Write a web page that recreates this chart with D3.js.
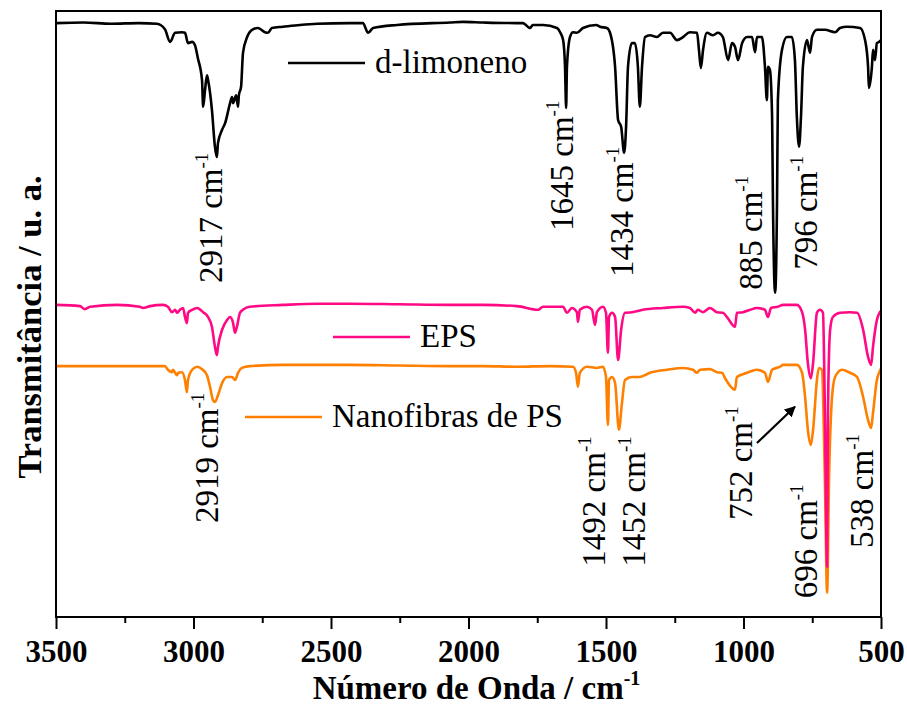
<!DOCTYPE html>
<html><head><meta charset="utf-8">
<script src="https://cdn.jsdelivr.net/npm/d3@7"></script>
<style>body{margin:0;background:#fff}</style>
</head><body>
<svg id="chart" width="907" height="708"></svg>
<script>
// ---- data ----
const xTicks = [3500, 3000, 2500, 2000, 1500, 1000, 500];
const xMinorTicks = [3250, 2750, 2250, 1750, 1250, 750];
const seriesNames = ["d-limoneno", "EPS", "Nanofibras de PS"];
const seriesColors = ["#000000", "#FF0A84", "#FF8000"];

const limoneno = [[3500,98.0],[3400,98.1],[3300,97.9],[3200,98.0],[3133,97.9],[3104,97.0],[3085,94.9],[3067,96.4],[3042,96.5],[3031,96.4],[3020,94.7],[3005,94.9],[2995,94.4],[2984,92.2],[2969,88.6],[2965,84.2],[2958,87.0],[2951,89.4],[2947,88.6],[2933,83.7],[2922,77.6],[2915,75.9],[2911,78.2],[2896,80.4],[2885,81.5],[2867,84.8],[2860,85.8],[2856,84.8],[2845,86.1],[2838,84.2],[2835,86.1],[2827,87.5],[2820,93.1],[2805,95.7],[2787,96.9],[2765,97.2],[2740,96.5],[2729,96.4],[2715,97.2],[2675,97.4],[2613,97.7],[2551,97.9],[2431,98.0],[2384,98.0],[2365,96.4],[2347,97.2],[2260,97.7],[2067,98.1],[2020,98.2],[1947,98.1],[1824,98.0],[1802,98.0],[1776,97.2],[1766,97.7],[1729,97.7],[1678,97.2],[1667,96.5],[1656,95.2],[1649,90.8],[1645,84.0],[1642,90.8],[1631,95.7],[1620,96.5],[1606,96.4],[1584,97.2],[1536,97.7],[1522,97.4],[1497,97.2],[1486,96.5],[1467,90.8],[1456,82.0],[1445,80.9],[1434,76.6],[1427,80.9],[1420,90.8],[1406,94.7],[1395,94.7],[1384,90.8],[1377,84.2],[1369,90.8],[1358,95.7],[1340,96.0],[1315,95.7],[1293,96.4],[1267,96.4],[1242,95.2],[1220,95.7],[1195,96.5],[1169,96.4],[1162,93.6],[1155,90.6],[1147,93.6],[1133,96.4],[1111,96.0],[1093,96.4],[1075,95.7],[1056,91.9],[1042,94.7],[1031,94.1],[1020,91.9],[1005,94.7],[987,95.7],[969,95.7],[958,93.2],[951,95.7],[933,95.7],[922,90.8],[915,85.3],[911,90.8],[904,90.3],[896,82.5],[893,68.8],[885,53.5],[878,68.8],[875,85.3],[860,93.6],[842,95.7],[824,95.7],[813,91.9],[806,82.5],[798,77.6],[791,82.5],[784,90.8],[769,95.2],[766,94.7],[758,93.1],[751,95.7],[733,96.9],[704,96.9],[667,96.5],[649,97.2],[624,97.4],[576,97.2],[558,95.2],[547,90.8],[544,87.3],[533,90.8],[529,93.6],[522,91.9],[515,94.7],[507,94.9],[500,95.2]];

const eps = [[3500,51.5],[3413,51.3],[3395,50.8],[3376,51.2],[3278,51.5],[3195,51.2],[3184,51.0],[3158,51.3],[3111,51.5],[3093,51.2],[3078,50.3],[3067,50.7],[3060,50.2],[3049,50.7],[3038,51.0],[3031,49.5],[3024,48.5],[3020,50.2],[3005,50.7],[2987,51.0],[2965,50.3],[2947,49.5],[2933,47.9],[2922,44.6],[2915,43.2],[2911,44.6],[2896,47.4],[2878,49.0],[2867,49.5],[2856,48.5],[2849,46.9],[2842,47.9],[2831,50.2],[2820,50.7],[2795,51.2],[2675,51.5],[2551,51.7],[2431,51.7],[2250,51.6],[2067,51.5],[1947,51.5],[1824,51.3],[1747,50.7],[1729,51.2],[1656,51.2],[1642,50.2],[1624,51.0],[1606,50.3],[1602,48.7],[1595,50.7],[1569,51.2],[1551,50.7],[1540,48.2],[1533,50.3],[1511,51.2],[1500,50.2],[1493,43.6],[1489,49.5],[1478,50.2],[1467,49.5],[1456,42.4],[1445,47.4],[1431,50.2],[1406,50.3],[1366,50.7],[1293,51.0],[1220,51.2],[1195,51.0],[1176,50.2],[1166,50.7],[1147,50.3],[1122,51.0],[1097,50.3],[1075,50.2],[1060,49.5],[1031,47.9],[1024,50.2],[1002,50.3],[976,50.7],[951,51.0],[922,50.7],[911,49.5],[900,51.0],[875,51.2],[856,51.5],[806,51.5],[787,50.3],[776,47.4],[766,41.9],[755,39.4],[747,41.9],[733,50.2],[722,50.7],[711,50.2],[704,33.7],[696,8.3],[693,33.7],[685,47.4],[675,49.5],[649,50.2],[613,50.3],[587,50.2],[565,47.4],[547,42.9],[536,41.6],[529,44.6],[515,49.0],[504,50.3],[500,50.5]];

const nanofibras = [[3500,41.4],[3402,41.4],[3278,41.4],[3158,41.4],[3104,41.4],[3093,40.8],[3078,40.4],[3075,40.8],[3060,39.9],[3056,40.3],[3042,40.4],[3031,39.1],[3024,37.1],[3020,39.1],[3005,40.8],[2987,41.3],[2969,40.9],[2951,39.9],[2940,38.0],[2929,35.8],[2922,35.5],[2911,36.6],[2896,38.6],[2878,39.6],[2860,39.6],[2849,39.1],[2838,40.3],[2824,41.1],[2795,41.4],[2675,41.6],[2431,41.6],[2250,41.5],[2067,41.4],[1947,41.4],[1824,41.3],[1704,41.4],[1620,41.3],[1609,40.3],[1602,38.0],[1595,40.3],[1569,41.3],[1533,41.1],[1511,41.3],[1500,39.6],[1493,31.7],[1489,39.1],[1478,39.6],[1467,38.6],[1453,30.9],[1442,35.3],[1431,39.1],[1406,39.6],[1377,39.6],[1340,40.3],[1278,40.8],[1220,41.1],[1184,40.8],[1169,40.3],[1158,40.8],[1122,40.9],[1097,40.4],[1078,40.3],[1067,39.4],[1031,37.5],[1024,39.6],[987,40.3],[951,40.8],[922,40.3],[911,38.8],[896,40.8],[867,41.3],[856,41.6],[806,41.6],[787,40.3],[776,36.3],[766,30.9],[755,28.4],[747,30.9],[733,39.1],[726,41.1],[715,40.8],[704,22.6],[696,4.0],[689,22.6],[678,36.3],[667,39.6],[642,40.8],[613,40.3],[587,39.6],[565,36.3],[547,32.5],[536,31.2],[529,33.7],[515,39.1],[504,40.6],[500,41.0]];

const peakLabels = ["2917","1645","1434","885","796","2919","1492","1452","752","696","538"];
const peakLabelWn = [2896,1620,1402,933,733,2911,1504,1358,969,733,529];
const peakLabelT  = [55.1,63.7,56.1,54.0,57.3,15.5,8.3,8.3,16.0,3.1,11.4];
const arrowFrom = [951, 28.7];
const arrowTo = [813, 34.7];

// ---- layout ----
const svg = d3.select("#chart");
const L = 56, R = 881, T = 11, B = 617;
const serif = "'Liberation Serif','Times New Roman',serif";
const x = d3.scaleLinear().domain([3500, 500]).range([L, R]);
const y = d3.scaleLinear().domain([0, 100]).range([B, T]);

const line = d3.line().x(d => x(d[0])).y(d => y(d[1])).curve(d3.curveMonotoneX);

const plot = svg.append("g");
const order = [[limoneno,0],[nanofibras,2],[eps,1]];
order.forEach(([data, i]) => {
  plot.append("path").datum(data).attr("d", line)
    .attr("fill","none").attr("stroke", seriesColors[i])
    .attr("stroke-width", 2.6).attr("stroke-linejoin","round");
});

// frame
svg.append("rect").attr("x", L).attr("y", T).attr("width", R-L).attr("height", B-T)
  .attr("fill","none").attr("stroke","#000").attr("stroke-width",2);

// axes
const xAxis = d3.axisBottom(x).tickValues(xTicks).tickSize(12).tickPadding(11).tickFormat(d3.format("d"));
const gx = svg.append("g").attr("transform", `translate(0,${B})`).call(xAxis);
gx.select(".domain").remove();
gx.selectAll(".tick line").attr("stroke-width",2);
gx.selectAll(".tick text").attr("font-family", serif).attr("font-weight","bold").attr("font-size",31).attr("fill","#000");
const xMinor = d3.axisBottom(x).tickValues(xMinorTicks).tickSize(6).tickFormat("");
const gm = svg.append("g").attr("transform", `translate(0,${B})`).call(xMinor);
gm.select(".domain").remove();
gm.selectAll(".tick line").attr("stroke-width",2);

// axis titles
const xt = svg.append("text").attr("x", (L+R)/2 + 8).attr("y", 699).attr("text-anchor","middle")
  .attr("font-family", serif).attr("font-weight","bold").attr("font-size",33);
xt.append("tspan").text("Número de Onda / cm");
xt.append("tspan").text("-1").attr("font-size",20).attr("dy",-14);

svg.append("text").attr("transform","translate(41,327) rotate(-90)").attr("text-anchor","middle")
  .attr("font-family", serif).attr("font-weight","bold").attr("font-size",34.5)
  .text("Transmitância / u. a.");

// peak labels
peakLabels.forEach((lab, i) => {
  const t = svg.append("text")
    .attr("transform", `translate(${x(peakLabelWn[i])},${y(peakLabelT[i])}) rotate(-90)`)
    .attr("font-family", serif).attr("font-size",33).attr("fill","#000");
  t.append("tspan").text(lab + " cm");
  t.append("tspan").text("-1").attr("font-size",19).attr("dy",-14);
});

// arrow
svg.append("defs").append("marker").attr("id","ah").attr("viewBox","0 0 10 10")
  .attr("refX",9).attr("refY",5).attr("markerWidth",5).attr("markerHeight",5).attr("orient","auto")
  .append("path").attr("d","M0,0 L10,5 L0,10 z").attr("fill","#000");
svg.append("line").attr("x1", x(arrowFrom[0])).attr("y1", y(arrowFrom[1]))
  .attr("x2", x(arrowTo[0])).attr("y2", y(arrowTo[1]))
  .attr("stroke","#000").attr("stroke-width",2.2).attr("marker-end","url(#ah)");

// legend
const legendPos = [[288, 63], [333, 337], [245, 417]];
legendPos.forEach(([lx, ly], i) => {
  svg.append("line").attr("x1", lx).attr("x2", lx + 77).attr("y1", ly).attr("y2", ly)
    .attr("stroke", seriesColors[i]).attr("stroke-width", 2.6);
  svg.append("text").attr("x", lx + 87).attr("y", ly + 10)
    .attr("font-family", serif).attr("font-size", 33).attr("fill","#000").text(seriesNames[i]);
});
</script>
</body></html>
